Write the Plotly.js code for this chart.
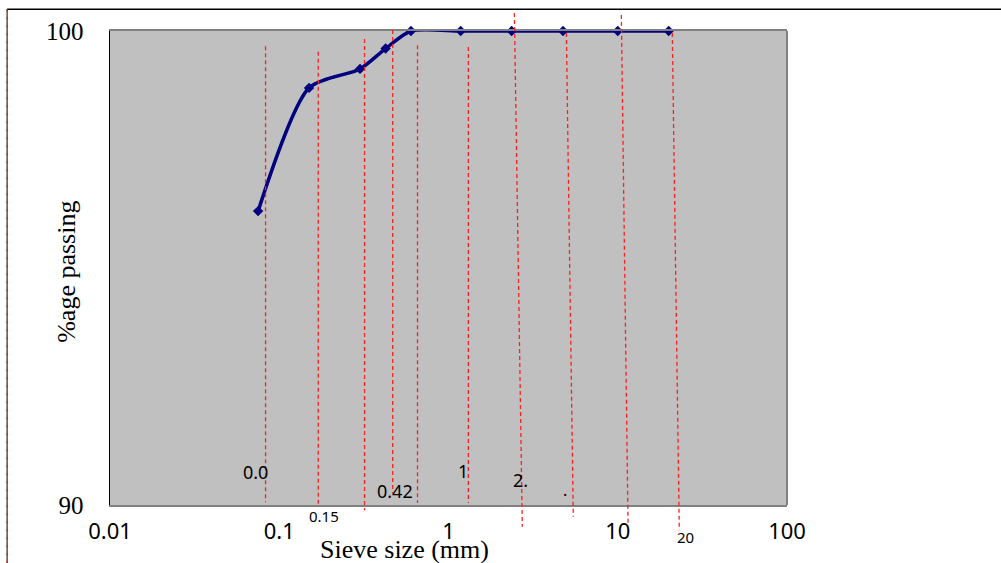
<!DOCTYPE html>
<html>
<head>
<meta charset="utf-8">
<script src="https://cdn.plot.ly/plotly-3.0.1.min.js"></script>
<style>html,body{margin:0;padding:0;background:#fff;}#chart{width:1001px;height:563px;}</style>
</head>
<body>
<div id="chart"></div>
<script>
// Sieve analysis data
const sieveSizes = [0.075, 0.15, 0.3, 0.425, 0.6, 1.18, 2.36, 4.75, 10, 20];
const percentPassing = [96.2, 98.8, 99.2, 99.63, 100, 100, 100, 100, 100, 100];

// Axis ticks
const xTickVals = [0.01, 0.1, 1, 10, 100];
const xTickText = ['0.01', '0.1', '1', '10', '100'];
const yTickVals = [90, 100];
const yTickText = ['90', '100'];

// Red dashed guide lines (sieve size at top and bottom ends)
const guideTopX = [0.083, 0.170, 0.319, 0.468, 0.656, 1.31, 2.45, 4.97, 10.5, 21.0];
const guideBottomX = [0.083, 0.170, 0.319, 0.468, 0.656, 1.31, 2.73, 5.46, 11.5, 23.1];
const guideTopY = [0.968, 0.956, 0.983, 1.002, 0.970, 0.966, 1.038, 0.996, 1.034, 0.996];
const guideBottomY = [0.006, -0.004, -0.011, 0.025, 0.004, 0.004, -0.046, -0.025, -0.038, -0.053];

// Stray labels inside the chart
const labelText = ['0.0', '0.42', '1', '2.', '.', '0.15', '20'];
const labelX = [0.0727, 0.486, 1.225, 2.66, 4.85, 0.183, 25.3];
const labelY = [0.070, 0.030, 0.072, 0.053, 0.032, -0.023, -0.0675];
const labelSize = [18, 18, 18, 18, 16, 15, 15];

const trace = {
  x: sieveSizes,
  y: percentPassing,
  type: 'scatter',
  mode: 'lines+markers',
  line: {color: '#000080', width: 3.5, shape: 'spline', smoothing: 0.7},
  marker: {symbol: 'diamond', size: 8, color: '#000080'},
  cliponaxis: false,
  hoverinfo: 'x+y'
};

const shapes = [];
for (let i = 0; i < guideTopX.length; i++) {
  shapes.push({
    type: 'line', xref: 'x', yref: 'paper',
    x0: guideTopX[i], x1: guideBottomX[i], y0: guideTopY[i], y1: guideBottomY[i],
    line: {color: '#ff2020', width: 1.3, dash: '4px,3px'}, layer: 'above'
  });
}
// right border of plot area (grey)
shapes.push({type: 'line', xref: 'paper', yref: 'paper', x0: 1, x1: 1, y0: 0, y1: 1,
  line: {color: '#808080', width: 2}});
// outer frame lines
shapes.push({type: 'line', xref: 'paper', yref: 'paper', x0: -0.152, x1: 1.32, y0: 1.046, y1: 1.046,
  line: {color: '#000000', width: 1.5}});
shapes.push({type: 'line', xref: 'paper', yref: 'paper', x0: -0.152, x1: -0.152, y0: 1.046, y1: -0.13,
  line: {color: '#000000', width: 1}});
shapes.push({type: 'line', xref: 'paper', yref: 'paper', x0: -0.152, x1: -0.152, y0: 1.046, y1: -0.13,
  line: {color: '#ff0000', width: 1, dash: '2px,6px'}});

const annotations = [];
for (let i = 0; i < labelText.length; i++) {
  annotations.push({
    text: labelText[i], xref: 'x', yref: 'paper',
    x: Math.log10(labelX[i]), y: labelY[i],
    showarrow: false, xanchor: 'center', yanchor: 'middle',
    font: {family: 'Noto Sans, Open Sans, sans-serif', size: labelSize[i], color: '#000'}
  });
}
annotations.push({
  text: 'Sieve size (mm)', xref: 'x', yref: 'paper',
  x: Math.log10(0.552), y: -0.093, showarrow: false, xanchor: 'center', yanchor: 'middle',
  font: {family: 'Liberation Serif, Times New Roman, serif', size: 26, color: '#000'}
});
annotations.push({
  text: '%age passing', xref: 'paper', yref: 'paper',
  x: -0.0635, y: 0.492, showarrow: false, textangle: -90, xanchor: 'center', yanchor: 'middle',
  font: {family: 'Liberation Serif, Times New Roman, serif', size: 26, color: '#000'}
});

const layout = {
  width: 1001, height: 563,
  margin: {l: 110, r: 213.7, t: 31, b: 58},
  paper_bgcolor: '#ffffff',
  plot_bgcolor: '#c0c0c0',
  showlegend: false,
  xaxis: {
    type: 'log', range: [-2, 2],
    tickvals: xTickVals, ticktext: xTickText,
    showgrid: false, zeroline: false,
    showline: true, linecolor: '#808080', linewidth: 2, mirror: true,
    ticks: '', ticklabelstandoff: 6,
    tickfont: {family: 'Noto Sans, Open Sans, sans-serif', size: 22, color: '#000'}
  },
  yaxis: {
    range: [90, 100],
    tickvals: yTickVals, ticktext: yTickText,
    showgrid: false, zeroline: false,
    showline: true, linecolor: '#000000', linewidth: 1.5,
    ticks: '', ticklabelstandoff: 20,
    tickfont: {family: 'Liberation Serif, Times New Roman, serif', size: 25, color: '#000'}
  },
  shapes: shapes,
  annotations: annotations
};

Plotly.newPlot('chart', [trace], layout, {displayModeBar: false, staticPlot: true});
</script>
</body>
</html>
